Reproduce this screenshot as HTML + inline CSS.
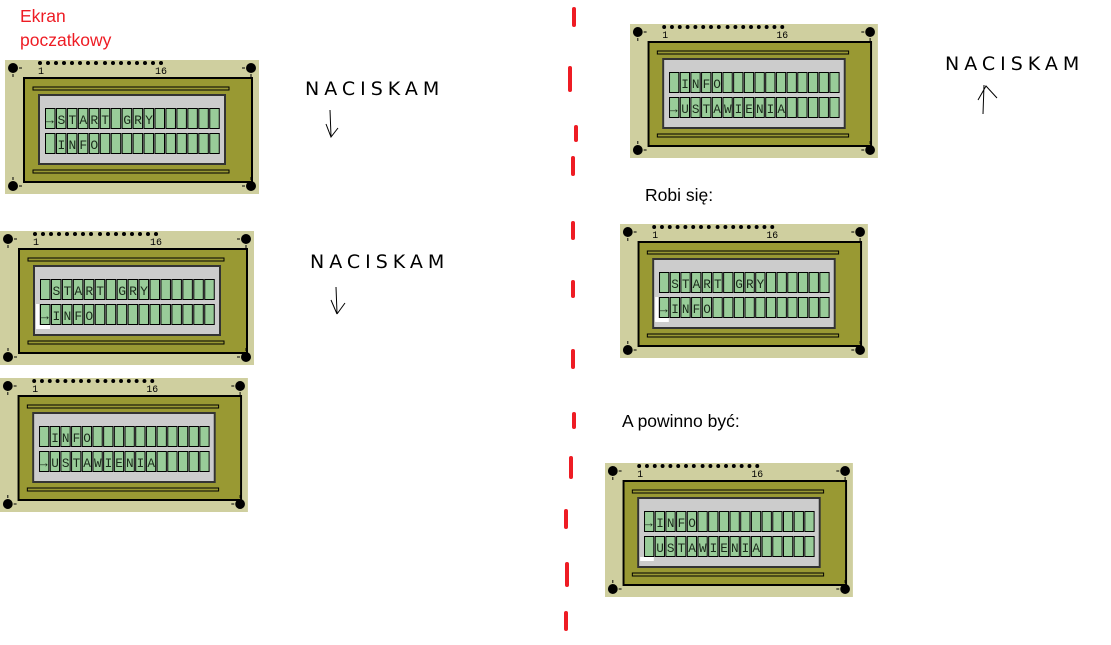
<!DOCTYPE html>
<html><head><meta charset="utf-8"><style>
html,body{margin:0;padding:0;background:#fff;}
body{width:1111px;height:645px;overflow:hidden;position:relative;}
svg{position:absolute;left:0;top:0;}
.c{font-family:"Liberation Mono",monospace;font-size:13px;letter-spacing:3.15px;fill:#1a2a1a;}
.n{font-family:"Liberation Mono",monospace;font-size:10px;fill:#000;}
.h{font-family:"Liberation Sans","DejaVu Sans",sans-serif;font-size:17.5px;fill:#000;}
.hw{font-family:"DejaVu Sans",sans-serif;font-size:19px;letter-spacing:5px;fill:#000;font-weight:normal;}
</style></head><body>
<svg width="1111" height="645" viewBox="0 0 1111 645" xmlns="http://www.w3.org/2000/svg">
<defs>
<g id="lcd">
  <rect x="0" y="0" width="254" height="134" fill="#cfcf9f"/>
  <rect x="19" y="18" width="228" height="104" fill="#999933" stroke="#000" stroke-width="2"/>
  <rect x="28" y="27" width="196" height="3" fill="#999933" stroke="#000" stroke-width="1"/>
  <rect x="28" y="110" width="196" height="3" fill="#999933" stroke="#000" stroke-width="1"/>
  <rect x="34" y="35" width="186" height="69" fill="#cccccc" stroke="#333" stroke-width="2"/>
  <g fill="#99cc99" stroke="#000" stroke-width="1">
    <rect x="40.5" y="48.5" width="9.5" height="20"/><rect x="51.45" y="48.5" width="9.5" height="20"/><rect x="62.4" y="48.5" width="9.5" height="20"/><rect x="73.35" y="48.5" width="9.5" height="20"/><rect x="84.3" y="48.5" width="9.5" height="20"/><rect x="95.25" y="48.5" width="9.5" height="20"/><rect x="106.2" y="48.5" width="9.5" height="20"/><rect x="117.15" y="48.5" width="9.5" height="20"/><rect x="128.1" y="48.5" width="9.5" height="20"/><rect x="139.05" y="48.5" width="9.5" height="20"/><rect x="150" y="48.5" width="9.5" height="20"/><rect x="160.95" y="48.5" width="9.5" height="20"/><rect x="171.9" y="48.5" width="9.5" height="20"/><rect x="182.85" y="48.5" width="9.5" height="20"/><rect x="193.8" y="48.5" width="9.5" height="20"/><rect x="204.75" y="48.5" width="9.5" height="20"/>
    <rect x="40.5" y="73.5" width="9.5" height="20"/><rect x="51.45" y="73.5" width="9.5" height="20"/><rect x="62.4" y="73.5" width="9.5" height="20"/><rect x="73.35" y="73.5" width="9.5" height="20"/><rect x="84.3" y="73.5" width="9.5" height="20"/><rect x="95.25" y="73.5" width="9.5" height="20"/><rect x="106.2" y="73.5" width="9.5" height="20"/><rect x="117.15" y="73.5" width="9.5" height="20"/><rect x="128.1" y="73.5" width="9.5" height="20"/><rect x="139.05" y="73.5" width="9.5" height="20"/><rect x="150" y="73.5" width="9.5" height="20"/><rect x="160.95" y="73.5" width="9.5" height="20"/><rect x="171.9" y="73.5" width="9.5" height="20"/><rect x="182.85" y="73.5" width="9.5" height="20"/><rect x="193.8" y="73.5" width="9.5" height="20"/><rect x="204.75" y="73.5" width="9.5" height="20"/>
  </g>
  <g fill="#000">
    <circle cx="8" cy="8" r="5"/><circle cx="246" cy="8" r="5"/><circle cx="8" cy="126" r="5"/><circle cx="246" cy="126" r="5"/>
    <circle cx="35" cy="3" r="2"/><circle cx="43" cy="3" r="2"/><circle cx="51" cy="3" r="2"/><circle cx="59" cy="3" r="2"/><circle cx="67" cy="3" r="2"/><circle cx="75" cy="3" r="2"/><circle cx="83" cy="3" r="2"/><circle cx="91" cy="3" r="2"/><circle cx="100" cy="3" r="2"/><circle cx="108" cy="3" r="2"/><circle cx="116" cy="3" r="2"/><circle cx="124" cy="3" r="2"/><circle cx="132" cy="3" r="2"/><circle cx="140" cy="3" r="2"/><circle cx="148" cy="3" r="2"/><circle cx="156" cy="3" r="2"/>
  </g>
  <g stroke="#000" stroke-width="1">
    <line x1="14" y1="8" x2="17" y2="8"/><line x1="8" y1="14" x2="8" y2="17"/>
    <line x1="237" y1="8" x2="240" y2="8"/><line x1="246" y1="14" x2="246" y2="17"/>
    <line x1="14" y1="126" x2="17" y2="126"/><line x1="8" y1="117" x2="8" y2="120"/>
    <line x1="237" y1="126" x2="240" y2="126"/><line x1="246" y1="117" x2="246" y2="120"/>
  </g>
</g>
</defs>

<text class="h" x="20" y="22" style="fill:#ee1c24">Ekran</text>
<text class="h" x="20" y="46" style="fill:#ee1c24">poczatkowy</text>

<g transform="translate(5,60)">
  <use href="#lcd"/>
  <text class="n" x="33" y="14">1</text><text class="n" x="150" y="14">16</text>
  <text class="c" x="41" y="64">→</text><text class="c" x="52.5" y="64" xml:space="preserve">START GRY</text>
  <text class="c" x="52.5" y="89">INFO</text>
</g>
<g transform="translate(0,231)">
  <use href="#lcd"/>
  <text class="n" x="33" y="14">1</text><text class="n" x="150" y="14">16</text>
  <rect x="36" y="94" width="14" height="4" fill="#fff"/><rect x="36" y="73" width="3" height="24" fill="#fff"/>
  <text class="c" x="52.5" y="64" xml:space="preserve">START GRY</text>
  <text class="c" x="41" y="89">→</text><text class="c" x="52.5" y="89">INFO</text>
</g>
<g transform="translate(0,378) scale(0.976,1)">
  <use href="#lcd"/>
  <text class="n" x="33" y="14">1</text><text class="n" x="150" y="14">16</text>
  <text class="c" x="52.5" y="64">INFO</text>
  <text class="c" x="41" y="89">→</text><text class="c" x="52.5" y="89">USTAWIENIA</text>
</g>
<g transform="translate(630,24) scale(0.976,1)">
  <use href="#lcd"/>
  <text class="n" x="33" y="14">1</text><text class="n" x="150" y="14">16</text>
  <text class="c" x="52.5" y="64">INFO</text>
  <text class="c" x="41" y="89">→</text><text class="c" x="52.5" y="89">USTAWIENIA</text>
</g>
<g transform="translate(620,224) scale(0.976,1)">
  <use href="#lcd"/>
  <text class="n" x="33" y="14">1</text><text class="n" x="150" y="14">16</text>
  <rect x="36" y="94" width="14" height="4" fill="#fff"/><rect x="36" y="73" width="3" height="24" fill="#fff"/>
  <text class="c" x="52.5" y="64" xml:space="preserve">START GRY</text>
  <text class="c" x="41" y="89">→</text><text class="c" x="52.5" y="89">INFO</text>
</g>
<g transform="translate(605,463) scale(0.976,1)">
  <use href="#lcd"/>
  <text class="n" x="33" y="14">1</text><text class="n" x="150" y="14">16</text>
  <rect x="36" y="94" width="14" height="4" fill="#fff"/>
  <text class="c" x="41" y="64">→</text><text class="c" x="52.5" y="64">INFO</text>
  <text class="c" x="52.5" y="89">USTAWIENIA</text>
</g>

<text class="hw" x="305" y="95">NACISKAM</text>
<path d="M330 110 L331 136 M326 124 L331 137 L338 128" fill="none" stroke="#000" stroke-width="1"/>
<text class="hw" x="310" y="268">NACISKAM</text>
<path d="M336 287 L337 313 M331 300 L337 314 M337 314 L345 303" fill="none" stroke="#000" stroke-width="1"/>
<text class="hw" x="945" y="70">NACISKAM</text>
<path d="M984 85 L983 114 M978 100 L986 86 L997 98" fill="none" stroke="#000" stroke-width="1"/>

<text class="h" x="645" y="201">Robi się:</text>
<text class="h" x="622" y="427">A powinno być:</text>

<g stroke="#ee1c24" stroke-width="4" stroke-linecap="round">
  <line x1="574" y1="9" x2="574" y2="25"/>
  <line x1="570" y1="68" x2="570" y2="90"/>
  <line x1="576" y1="127" x2="576" y2="140"/>
  <line x1="573" y1="158" x2="573" y2="174"/>
  <line x1="573" y1="223" x2="573" y2="238"/>
  <line x1="573" y1="282" x2="573" y2="296"/>
  <line x1="573" y1="351" x2="573" y2="367"/>
  <line x1="574" y1="414" x2="574" y2="427"/>
  <line x1="571" y1="458" x2="571" y2="477"/>
  <line x1="566" y1="511" x2="566" y2="527"/>
  <line x1="567" y1="564" x2="567" y2="585"/>
  <line x1="566" y1="613" x2="566" y2="629"/>
</g>
</svg>
</body></html>
